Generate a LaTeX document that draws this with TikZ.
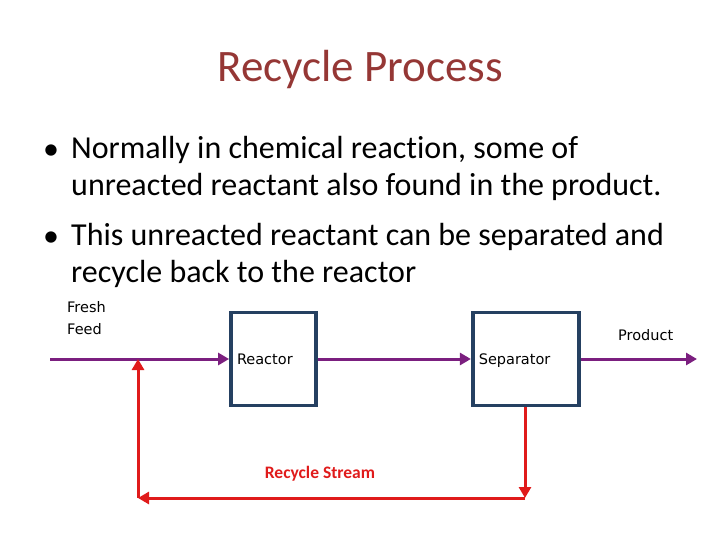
\documentclass[tikz,border=0pt]{standalone}
\usepackage{fontspec}
\setmainfont{Carlito}[Ligatures=NoCommon]
\newfontfamily\diagfont{DejaVu Sans}
\usetikzlibrary{arrows.meta,positioning}
\definecolor{titlered}{HTML}{953735}
\definecolor{boxblue}{HTML}{254061}
\definecolor{streamviolet}{HTML}{7B1F7F}
\definecolor{recyclered}{HTML}{E01B1B}
\tikzset{
  heading/.style={inner sep=0pt,text=titlered,font=\fontsize{45}{54}\selectfont},
  bodyline/.style={inner sep=0pt,anchor=base west,font=\fontsize{32}{37}\selectfont},
  unit/.style={draw=boxblue,line width=3.8pt,fill=white,minimum height=93pt,
               inner xsep=6pt,text depth=0pt,align=left,font=\diagfont\fontsize{14.5}{16}\selectfont},
  tag/.style={inner sep=0pt,align=left,font=\diagfont\fontsize{14.5}{22}\selectfont},
  stream/.style={-{Triangle[length=11pt,width=12pt]},line width=3pt,draw=streamviolet},
  recycle/.style={-{Triangle[length=11pt,width=12pt]},line width=3pt,draw=recyclered}
}
\begin{document}
\begin{tikzpicture}[x=1pt,y=-1pt]
\useasboundingbox (0,0) rectangle (720,540);
% title and bullet text
\node[heading,anchor=base] (title) at (360,82) {Recycle Process};
\node[bodyline] (bullet1) at (43,160) {\textbullet};
\node[bodyline] (line1) at (71,159) {Normally in chemical reaction, some of};
\node[bodyline] (line2) at (71,196) {unreacted reactant also found in the product.};
\node[bodyline] (bullet2) at (43,246) {\textbullet};
\node[bodyline] (line3) at (71,245) {This unreacted reactant can be separated and};
\node[bodyline] (line4) at (71,282) {recycle back to the reactor};
% process units
\node[unit,text width=73pt] (reactor) at (273.5,359) {Reactor};
\node[unit,text width=94pt,right=153pt of reactor] (separator) {Separator};
% stream points
\coordinate (feedin) at (50,359);
\coordinate (prodout) at (697,359);
\coordinate (turnright) at (525,498);
\coordinate (turnleft) at (138,498);
\coordinate (mixpoint) at (138,359);
\draw[stream] (feedin) -- (reactor.west);
\draw[stream] (reactor.east) -- (separator.west);
\draw[stream] (separator.east) -- (prodout);
\draw[recycle] (separator.south -| turnright) -- (turnright);
\draw[recycle] (turnright) -- (turnleft);
\draw[recycle] (turnleft) -- (mixpoint);
% labels
\node[tag,anchor=west] (feedlabel) at (67,318) {Fresh\\Feed};
\node[tag,anchor=west] (prodlabel) at (618,335) {Product};
\node[inner sep=0pt,text=recyclered,font=\bfseries\fontsize{17.5}{20}\selectfont] (reclabel) at (320,474) {Recycle Stream};
\end{tikzpicture}
\end{document}
